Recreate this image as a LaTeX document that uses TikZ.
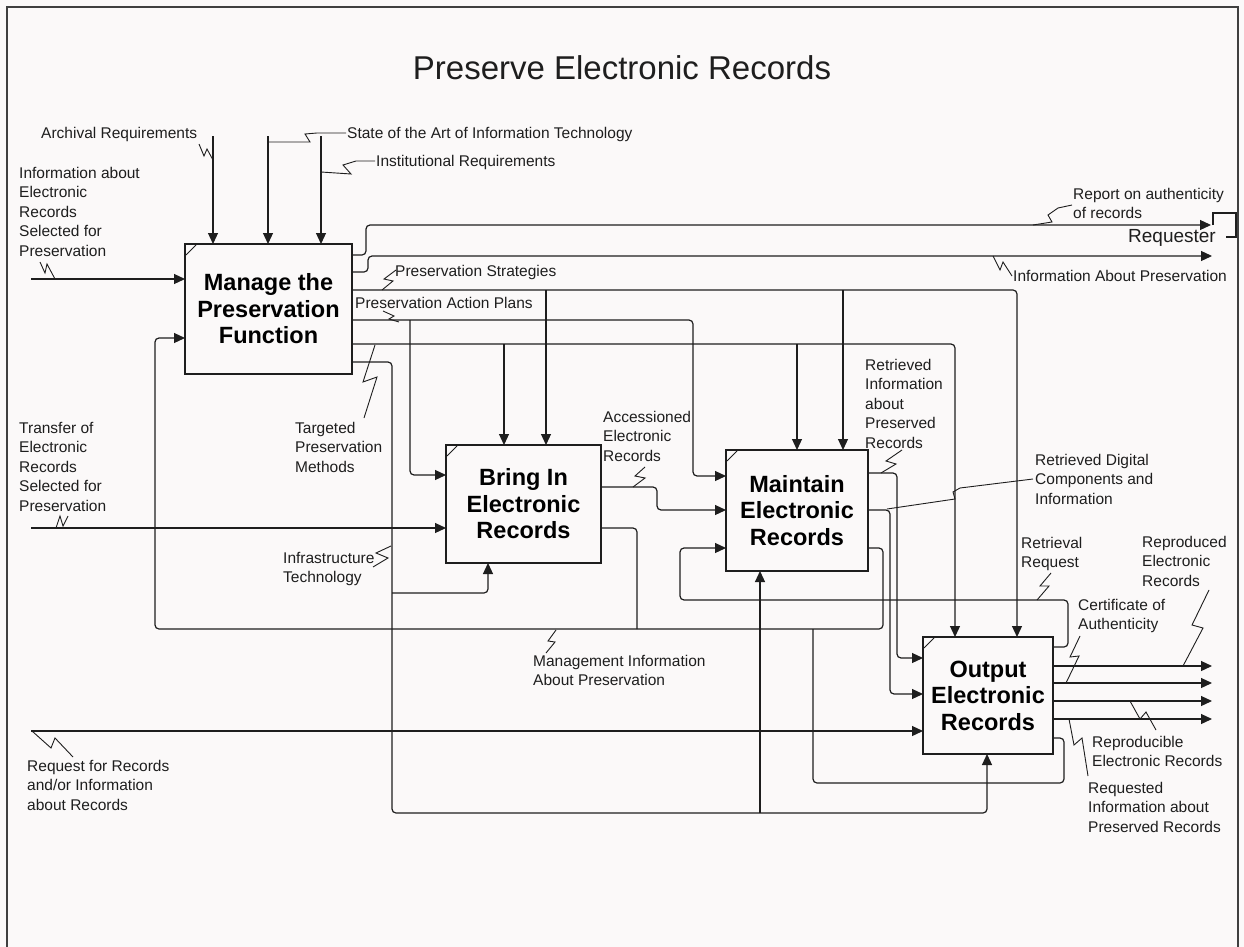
\documentclass[tikz,border=0pt]{standalone}
\usepackage{fontspec}
\setmainfont{Liberation Sans}
\usepackage{xcolor}
\definecolor{idfbg}{RGB}{251,249,249}
\definecolor{idfink}{RGB}{30,30,30}
\usetikzlibrary{arrows.meta,positioning,calc}
\tikzset{
  idfbox/.style={draw=idfink,line width=1.7pt,inner sep=0pt,outer sep=0pt,align=center,font=\fontsize{23.5}{26.5}\selectfont\bfseries},
  idfflow/.style={-{Triangle[length=11pt,width=10pt]},draw=idfink,line width=1.2pt,rounded corners=4pt},
  idfline/.style={draw=idfink,line width=1.2pt,rounded corners=4pt},
  idflabel/.style={anchor=north west,inner sep=0pt,align=left,text=idfink,font=\fontsize{15.5}{19.5}\selectfont},
  idfsquig/.style={draw=idfink,line width=0.9pt},
}

\begin{document}
\begin{tikzpicture}[x=1pt,y=-1pt]
\fill[idfbg] (0,0) rectangle (1244,947);
\useasboundingbox (0,0) rectangle (1244,947);
\draw[line width=1.6pt,black!75] (7,947) -- (7,7) -- (1238,7) -- (1238,947);

\node[font=\fontsize{33}{36}\selectfont,text=idfink] (title) at (622,68) {Preserve Electronic Records};

% activity boxes
\node[idfbox,minimum width=167pt,minimum height=130pt] (mng) at (268.5,309) {Manage the\\Preservation\\Function};
\node[idfbox,minimum width=155pt,minimum height=118pt] (bri) at (523.5,504) {Bring In\\Electronic\\Records};
\node[idfbox,minimum width=142pt,minimum height=121pt] (mnt) at (797,510.5) {Maintain\\Electronic\\Records};
\node[idfbox,minimum width=130pt,minimum height=117pt] (out) at (988,695.5) {Output\\Electronic\\Records};
\foreach \b in {mng,bri,mnt,out}
  \draw[line width=0.8pt,idfink] ($(\b.north west)+(1,11)$) -- ($(\b.north west)+(11,1)$);

% controls of mng
\foreach \cx/\nm in {213/carch,268/cstate,321/cinst} {
  \coordinate (\nm) at (\cx,136);
  \draw[idfflow] (\nm) -- (\nm |- mng.north);
}
\node[idflabel] (lbArch) at (41,127) {Archival Requirements};
\draw[idfsquig] (199,144) -- (204,156) -- (207,149) -- (213,160);
\node[idflabel] (lbState) at (347,127) {State of the Art of Information Technology};
\draw[idfsquig] (268,142) -- (310,142) -- (305,134) -- (317,133) -- (346,133);
\node[idflabel] (lbInst) at (376,155) {Institutional Requirements};
\draw[idfsquig] (321,172) -- (351,174) -- (343,165) -- (356,161) -- (375,161);

% inputs from the left
\coordinate (iinfo) at (31,279);
\draw[idfflow] (iinfo) -- (iinfo -| mng.west);
\node[idflabel] (lbInfo) at (19,167) {Information about\\Electronic\\Records\\Selected for\\Preservation};
\draw[idfsquig] (40,262) -- (45,273) -- (47,264) -- (55,279);

\coordinate (itrans) at (31,528);
\draw[idfflow] (itrans) -- (itrans -| bri.west);
\node[idflabel] (lbTrans) at (19,422) {Transfer of\\Electronic\\Records\\Selected for\\Preservation};
\draw[idfsquig] (56,528) -- (60,516) -- (63,526) -- (68,516);

\coordinate (ireq) at (31,731);
\draw[idfflow] (ireq) -- (ireq -| out.west);
\node[idflabel] (lbReq) at (27,760) {Request for Records\\and/or Information\\about Records};
\draw[idfsquig] (32,731) -- (51,748) -- (55,738) -- (73,757);

% outputs of mng to the requester
\draw[idfflow] (mng.east |- 0,255) -- (366,255) -- (366,225) -- (1211,225);
\draw[idfflow] (mng.east |- 0,272) -- (368,272) -- (368,256) -- (1212,256);
\node[font=\fontsize{19}{22}\selectfont,text=idfink,anchor=east,inner sep=0pt] (req) at (1216,238) {Requester};
\draw[line width=1.6pt,idfink] (1213,225) -- (1213,213) -- (1236,213) -- (1236,237) -- (1226,237);
\node[idflabel] (lbRep) at (1073,188) {Report on authenticity\\of records};
\draw[idfsquig] (1033,225) -- (1052,222) -- (1048,215) -- (1058,208) -- (1072,205);
\node[idflabel] (lbInfP) at (1013,270) {Information About Preservation};
\draw[idfsquig] (993,256) -- (1000,270) -- (1003,262) -- (1012,276);

% preservation strategies
\draw[idfflow] (mng.east |- 0,290) -- (1017,290) -- (1017,0 |- out.north);
\draw[idfflow] (546,290) -- (546,0 |- bri.north);
\draw[idfflow] (843,290) -- (843,0 |- mnt.north);
\node[idflabel] (lbStrat) at (395,265) {Preservation Strategies};
\draw[idfsquig] (382,290) -- (393,281) -- (384,279) -- (396,270);

% preservation action plans
\draw[idfflow] (mng.east |- 0,320) -- (693,320) -- (693,476) -- (mnt.west |- 0,476);
\draw[idfflow] (410,320) -- (410,475) -- (bri.west |- 0,475);
\node[idflabel] (lbPlan) at (355,297) {Preservation Action Plans};
\draw[idfsquig] (383,311) -- (394,316) -- (389,319) -- (399,322);

% targeted preservation methods
\draw[idfflow] (mng.east |- 0,344) -- (955,344) -- (955,0 |- out.north);
\draw[idfflow] (504,344) -- (504,0 |- bri.north);
\draw[idfflow] (797,344) -- (797,0 |- mnt.north);
\node[idflabel] (lbTarg) at (295,422) {Targeted\\Preservation\\Methods};
\draw[idfsquig] (375,345) -- (363,382) -- (377,377) -- (364,418);

% infrastructure technology
\draw[idfflow] (mng.east |- 0,362) -- (392,362) -- (392,813) -- (987,813) -- (987,0 |- out.south);
\draw[idfflow] (392,593) -- (488,593) -- (488,0 |- bri.south);
\draw[idfflow] (760,813) -- (760,0 |- mnt.south);
\node[idflabel] (lbInfra) at (283,552) {Infrastructure\\Technology};
\draw[idfsquig] (391,546) -- (376,553) -- (388,558) -- (373,567);

% accessioned records
\draw[idfflow] (bri.east |- 0,487) -- (657,487) -- (657,510) -- (mnt.west |- 0,510);
\node[idflabel] (lbAcc) at (603,411) {Accessioned\\Electronic\\Records};
\draw[idfsquig] (633,487) -- (645,478) -- (635,476) -- (645,467);

% outputs of mnt
\draw[idfflow] (mnt.east |- 0,473) -- (897,473) -- (897,658) -- (out.west |- 0,658);
\draw[idfflow] (mnt.east |- 0,510) -- (890,510) -- (890,694) -- (out.west |- 0,694);
\node[idflabel] (lbRet) at (865,359) {Retrieved\\Information\\about\\Preserved\\Records};
\draw[idfsquig] (881,473) -- (896,464) -- (886,461) -- (902,450);
\node[idflabel] (lbDig) at (1035,454) {Retrieved Digital\\Components and\\Information};
\draw[idfsquig] (887,509) -- (955,499) -- (953,492) -- (960,488) -- (1033,479);

% management information feedback
\draw[idfflow] (mnt.east |- 0,548) -- (883,548) -- (883,629) -- (155,629) -- (155,338) -- (mng.west |- 0,338);
\draw[idfline] (bri.east |- 0,528) -- (637,528) -- (637,629);
\draw[idfline] (out.east |- 0,738) -- (1064,738) -- (1064,783) -- (813,783) -- (813,629);
\node[idflabel] (lbMgt) at (533,655) {Management Information\\About Preservation};
\draw[idfsquig] (556,630) -- (548,641) -- (555,642) -- (546,653);

% retrieval request
\draw[idfflow] (out.east |- 0,647) -- (1068,647) -- (1068,600) -- (680,600) -- (680,548) -- (mnt.west |- 0,548);
\node[idflabel] (lbRtr) at (1021,537) {Retrieval\\Request};
\draw[idfsquig] (1051,573) -- (1040,586) -- (1049,586) -- (1037,600);

% outputs of out
\foreach \oy/\nm in {666/oRepro,683/oCert,701/oRepd,719/oRqd} {
  \coordinate (\nm) at (1212,\oy);
  \draw[idfflow] (\nm -| out.east) -- (\nm);
}
\node[idflabel] (lbRepro) at (1142,536) {Reproduced\\Electronic\\Records};
\draw[idfsquig] (1209,590) -- (1192,625) -- (1203,628) -- (1183,666);
\node[idflabel] (lbCert) at (1078,599) {Certificate of\\Authenticity};
\draw[idfsquig] (1080,636) -- (1070,657) -- (1079,656) -- (1066,683);
\node[idflabel] (lbRepd) at (1092,736) {Reproducible\\Electronic Records};
\draw[idfsquig] (1130,701) -- (1140,719) -- (1146,712) -- (1156,730);
\node[idflabel] (lbRqd) at (1088,782) {Requested\\Information about\\Preserved Records};
\draw[idfsquig] (1069,719) -- (1074,745) -- (1082,738) -- (1088,776);
\end{tikzpicture}
\end{document}
